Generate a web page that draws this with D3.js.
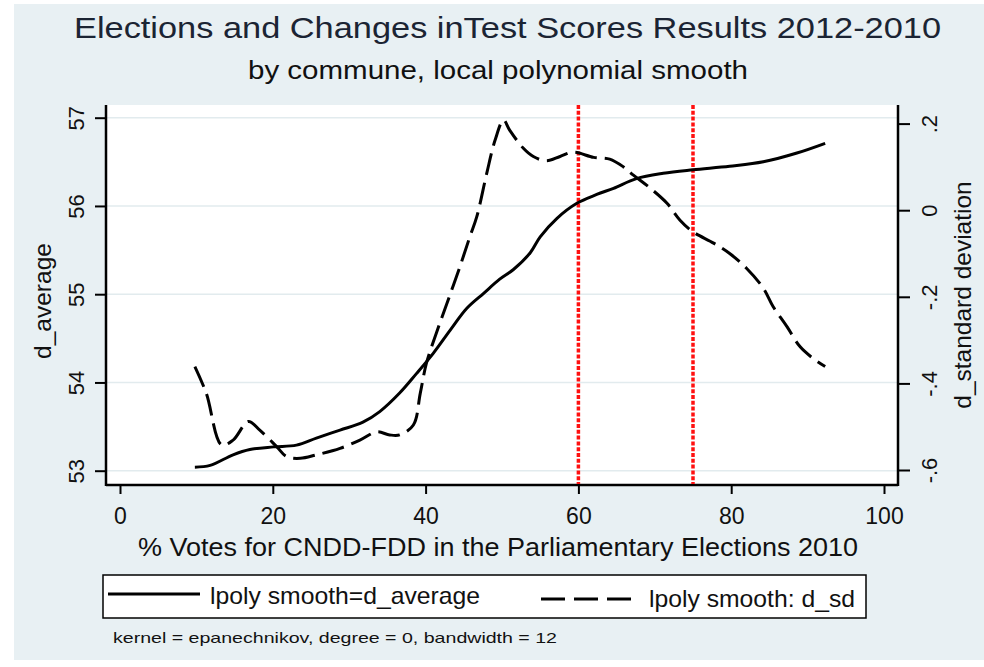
<!DOCTYPE html>
<html>
<head>
<meta charset="utf-8">
<script src="https://cdn.jsdelivr.net/npm/d3@7"></script>
<style>
  body { margin: 0; background: #fff; }
  text { font-family: "Liberation Sans", Arial, sans-serif; fill: #111; }
</style>
</head>
<body>
<svg id="chart" width="984" height="667"></svg>
<script>
// Local polynomial smooth of the commune average score change (left axis)
const avgX = [9.8, 11.8, 14.8, 17.0, 20.1, 23.1, 25.7, 28.8, 31.8, 34.0, 36.6, 38.8, 41.0, 43.2, 45.4, 47.6,
              49.7, 51.5, 53.7, 55.0, 57.2, 59.8, 62.4, 64.6, 67.6, 71.1, 75.0, 79.8, 84.2, 88.6, 92.3];
const avgY = [53.04, 53.06, 53.18, 53.24, 53.27, 53.29, 53.37, 53.46, 53.55, 53.67, 53.88, 54.10, 54.33, 54.59, 54.84, 55.01,
              55.17, 55.28, 55.47, 55.65, 55.86, 56.03, 56.13, 56.20, 56.31, 56.37, 56.41, 56.45, 56.50, 56.60, 56.71];

// Local polynomial smooth of the standard-deviation change (right axis)
const sdX = [9.8, 11.3, 13.3, 14.8, 16.8, 18.3, 20.5, 21.8, 23.6, 25.7, 28.8, 31.4, 33.6, 35.3, 36.6, 38.4,
             39.3, 40.1, 41.4, 42.8, 44.5, 45.8, 46.7, 48.0, 49.1, 50.2, 51.0, 52.8, 54.1, 55.8, 57.6, 59.3,
             62.0, 64.1, 65.9, 67.2, 69.4, 71.6, 73.3, 75.0, 77.7, 79.8, 82.0, 84.2, 85.5, 87.3, 89.0, 90.7, 92.3];
const sdY = [-0.361, -0.423, -0.542, -0.531, -0.488, -0.508, -0.546, -0.569, -0.573, -0.565, -0.550, -0.531, -0.512, -0.519, -0.519, -0.496,
             -0.423, -0.354, -0.284, -0.215, -0.130, -0.061, -0.015, 0.085, 0.162, 0.208, 0.185, 0.143, 0.124, 0.114, 0.124, 0.134,
             0.122, 0.118, 0.100, 0.081, 0.051, 0.016, -0.023, -0.050, -0.076, -0.100, -0.134, -0.180, -0.223, -0.269, -0.315, -0.342, -0.361];

// Axis ticks and reference cut-offs
const xTicks = [0, 20, 40, 60, 80, 100];
const leftTicks = [53, 54, 55, 56, 57];
const rightTicks = [-0.6, -0.4, -0.2, 0, 0.2];
const rightTickLabels = ["-.6", "-.4", "-.2", "0", ".2"];
const cutoffs = [60, 75];

const svg = d3.select("#chart");
const plot = { l: 106, r: 898, t: 105, b: 485 };

// graph region and plot region
svg.append("rect").attr("x", 14).attr("y", 4).attr("width", 970).attr("height", 656).attr("fill", "#e8f0f3");
svg.append("rect").attr("x", plot.l).attr("y", plot.t)
  .attr("width", plot.r - plot.l).attr("height", plot.b - plot.t).attr("fill", "#fff");

const x = d3.scaleLinear().domain([0, 100]).range([120, 884]);
const yL = d3.scaleLinear().domain([53, 57]).range([470.7, 117.7]);
const yR = d3.scaleLinear().domain([-0.6, 0.2]).range([470, 123.6]);

// horizontal grid at left-axis ticks
svg.append("g").selectAll("line").data(leftTicks).join("line")
  .attr("x1", plot.l).attr("x2", plot.r)
  .attr("y1", d => yL(d)).attr("y2", d => yL(d))
  .attr("stroke", "#e2ebee").attr("stroke-width", 1.5);

const tickFont = "Liberation Sans, Arial, sans-serif";

// left axis
const axL = svg.append("g").attr("transform", `translate(${plot.l},0)`).attr("color", "#000")
  .call(d3.axisLeft(yL).tickValues(leftTicks).tickSize(11).tickSizeOuter(0).tickFormat(d3.format("d")));
axL.select(".domain").remove();
axL.selectAll(".tick line").attr("stroke-width", 2);
axL.selectAll(".tick text")
  .attr("transform", "rotate(-90)").attr("x", 0).attr("y", -22).attr("dy", 0)
  .attr("text-anchor", "middle").style("font-size", "22px").style("font-family", tickFont);

// right axis
const axR = svg.append("g").attr("transform", `translate(${plot.r},0)`).attr("color", "#000")
  .call(d3.axisRight(yR).tickValues(rightTicks).tickSize(12).tickSizeOuter(0)
    .tickFormat((d, i) => rightTickLabels[i]));
axR.select(".domain").remove();
axR.selectAll(".tick line").attr("stroke-width", 2);
axR.selectAll(".tick text")
  .attr("transform", "rotate(-90)").attr("x", 0).attr("y", 39).attr("dy", 0)
  .attr("text-anchor", "middle").style("font-size", "22px").style("font-family", tickFont);

// bottom axis
const axB = svg.append("g").attr("transform", `translate(0,${plot.b})`).attr("color", "#000")
  .call(d3.axisBottom(x).tickValues(xTicks).tickSize(9).tickSizeOuter(0).tickFormat(d3.format("d")));
axB.select(".domain").remove();
axB.selectAll(".tick line").attr("stroke-width", 2);
axB.selectAll(".tick text").attr("y", 39).attr("dy", 0)
  .style("font-size", "23px").style("font-family", tickFont);

// axis lines spanning the plot region
const frame = svg.append("g").attr("stroke", "#000").attr("stroke-width", 2.5);
frame.append("line").attr("x1", plot.l).attr("x2", plot.l).attr("y1", plot.t).attr("y2", plot.b + 1);
frame.append("line").attr("x1", plot.r).attr("x2", plot.r).attr("y1", plot.t).attr("y2", plot.b + 1);
frame.append("line").attr("x1", plot.l).attr("x2", plot.r).attr("y1", plot.b).attr("y2", plot.b);

// vertical cut-off lines
svg.append("g").selectAll("line").data(cutoffs).join("line")
  .attr("x1", d => x(d)).attr("x2", d => x(d)).attr("y1", plot.t).attr("y2", plot.b - 1)
  .attr("stroke", "#ff1010").attr("stroke-width", 3.5).attr("stroke-dasharray", "4,1.8");

// smooth curves
const curve = d3.curveCatmullRom.alpha(0.5);
const avgLine = d3.line().x(d => x(d[0])).y(d => yL(d[1])).curve(curve);
const sdLine = d3.line().x(d => x(d[0])).y(d => yR(d[1])).curve(curve);

svg.append("path").datum(sdX.map((v, i) => [v, sdY[i]]))
  .attr("d", sdLine).attr("fill", "none").attr("stroke", "#000")
  .attr("stroke-width", 3).attr("stroke-dasharray", "22,8").attr("stroke-linejoin", "round");

svg.append("path").datum(avgX.map((v, i) => [v, avgY[i]]))
  .attr("d", avgLine).attr("fill", "none").attr("stroke", "#000")
  .attr("stroke-width", 3).attr("stroke-linejoin", "round");

// titles
svg.append("text").attr("x", 74).attr("y", 38).attr("textLength", 867).attr("lengthAdjust", "spacingAndGlyphs")
  .style("font-size", "29px").style("fill", "#1b2433")
  .text("Elections and Changes inTest Scores Results 2012-2010");
svg.append("text").attr("x", 248).attr("y", 79).attr("textLength", 500).attr("lengthAdjust", "spacingAndGlyphs")
  .style("font-size", "26px")
  .text("by commune, local polynomial smooth");

// axis titles
svg.append("text").attr("x", 138).attr("y", 556).attr("textLength", 720).attr("lengthAdjust", "spacingAndGlyphs")
  .style("font-size", "26px")
  .text("% Votes for CNDD-FDD in the Parliamentary Elections 2010");
svg.append("text").attr("transform", "translate(51,301) rotate(-90)").attr("text-anchor", "middle")
  .style("font-size", "24.5px").text("d_average");
svg.append("text").attr("transform", "translate(971,295) rotate(-90)").attr("text-anchor", "middle")
  .style("font-size", "24.5px").text("d_standard deviation");

// legend
const lg = svg.append("g");
lg.append("rect").attr("x", 103).attr("y", 575).attr("width", 763).attr("height", 43)
  .attr("fill", "#fff").attr("stroke", "#000").attr("stroke-width", 1.5);
lg.append("line").attr("x1", 108).attr("x2", 200).attr("y1", 594).attr("y2", 594)
  .attr("stroke", "#000").attr("stroke-width", 3);
lg.append("text").attr("x", 210).attr("y", 604).attr("textLength", 270).attr("lengthAdjust", "spacingAndGlyphs")
  .style("font-size", "24px").text("lpoly smooth=d_average");
lg.append("line").attr("x1", 541).attr("x2", 631).attr("y1", 599).attr("y2", 599)
  .attr("stroke", "#000").attr("stroke-width", 3).attr("stroke-dasharray", "24,9");
lg.append("text").attr("x", 649).attr("y", 607).attr("textLength", 206).attr("lengthAdjust", "spacingAndGlyphs")
  .style("font-size", "24px").text("lpoly smooth: d_sd");

// note
svg.append("text").attr("x", 113).attr("y", 643).attr("textLength", 444).attr("lengthAdjust", "spacingAndGlyphs")
  .style("font-size", "15px").text("kernel = epanechnikov, degree = 0, bandwidth = 12");
</script>
</body>
</html>
